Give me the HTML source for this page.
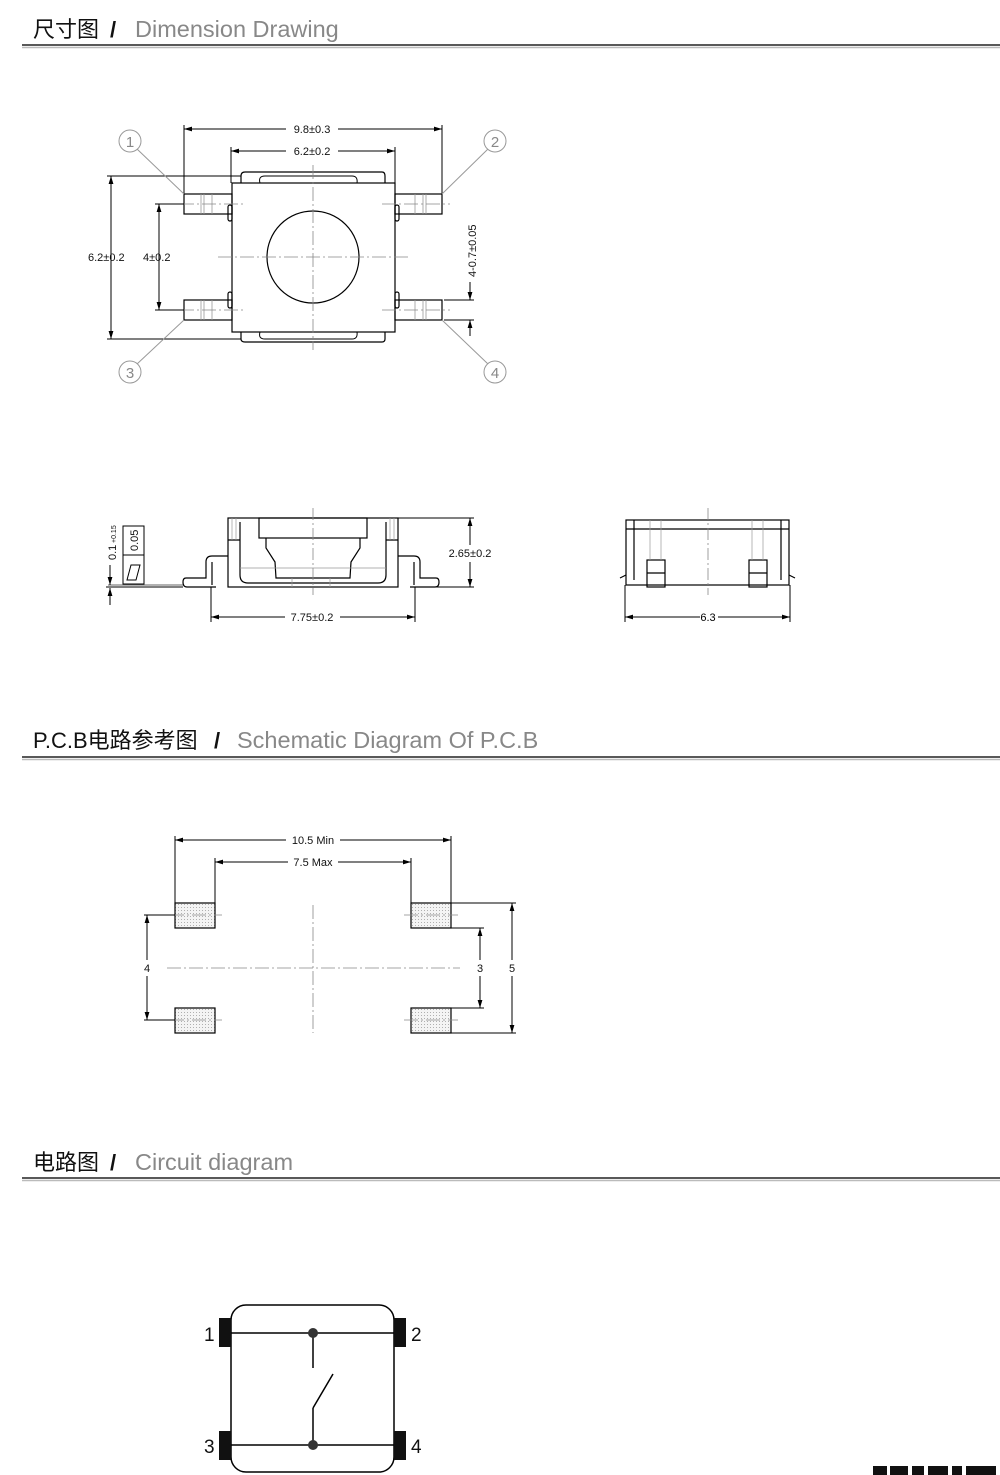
<!DOCTYPE html>
<html><head><meta charset="utf-8"><style>
html,body{margin:0;padding:0;background:#fff}
svg{display:block}
text{font-family:"Liberation Sans","Noto Sans CJK SC",sans-serif}
</style></head><body>
<svg width="1000" height="1475" viewBox="0 0 1000 1475" xmlns="http://www.w3.org/2000/svg">
<defs>
<marker id="a" viewBox="0 0 10 6" refX="10" refY="3" markerWidth="8" markerHeight="5" orient="auto-start-reverse"><path d="M0,0L10,3L0,6z" fill="#000"/></marker>
<pattern id="dots" width="3" height="3" patternUnits="userSpaceOnUse"><rect width="3" height="3" fill="#f4f4f4"/><circle cx="1.5" cy="1.5" r="0.5" fill="#999"/></pattern>
</defs>
<!-- Headers -->
<g>
<text x="33" y="37" font-size="22" fill="#111">尺寸图</text><text x="110" y="37" font-size="22" font-weight="bold" fill="#111">/</text>
<text x="135" y="37" font-size="23.5" fill="#888">Dimension Drawing</text>
<line x1="22" y1="45" x2="1000" y2="45" stroke="#222" stroke-width="1.5"/><line x1="22" y1="47.5" x2="1000" y2="47.5" stroke="#bbb" stroke-width="1.5"/>
<text x="33" y="748" font-size="22" fill="#111">P.C.B电路参考图</text><text x="214" y="748" font-size="22" font-weight="bold" fill="#111">/</text>
<text x="237" y="748" font-size="23.5" fill="#888">Schematic Diagram Of P.C.B</text>
<line x1="22" y1="757" x2="1000" y2="757" stroke="#222" stroke-width="1.5"/><line x1="22" y1="759.5" x2="1000" y2="759.5" stroke="#bbb" stroke-width="1.5"/>
<text x="33" y="1170" font-size="22" fill="#111">电路图</text><text x="110" y="1170" font-size="22" font-weight="bold" fill="#111">/</text>
<text x="135" y="1170" font-size="23.5" fill="#888">Circuit diagram</text>
<line x1="22" y1="1178" x2="1000" y2="1178" stroke="#222" stroke-width="1.5"/><line x1="22" y1="1180.5" x2="1000" y2="1180.5" stroke="#bbb" stroke-width="1.5"/>
</g>

<!-- Top view -->
<g fill="none" stroke="#000" stroke-width="1.2">
<rect x="232" y="183" width="163" height="149"/>
<path d="M241,183 V176 Q241,172 245,172 H382 Q385,172 385,176 V183"/>
<path d="M241,332 V339 Q241,342 245,342 H382 Q385,342 385,339 V332"/>
<path d="M260,183 Q258,176 265,176 H352 Q358,176 357,183" stroke-width="1"/>
<path d="M260,332 Q258,339 265,339 H352 Q358,339 357,332" stroke-width="1"/>
<circle cx="313" cy="257" r="46"/>
<rect x="184" y="194" width="48" height="20"/><rect x="184" y="300" width="48" height="20"/>
<rect x="395" y="194" width="47" height="20"/><rect x="395" y="300" width="47" height="20"/>
<rect x="228" y="205" width="4" height="16" rx="2"/><rect x="228" y="292" width="4" height="16" rx="2"/>
<rect x="395" y="205" width="4" height="16" rx="2"/><rect x="395" y="292" width="4" height="16" rx="2"/>
</g>
<g stroke="#999" stroke-width="0.8">
<line x1="201" y1="194" x2="201" y2="214"/><line x1="204" y1="194" x2="204" y2="214"/><line x1="212" y1="194" x2="212" y2="214"/>
<line x1="201" y1="300" x2="201" y2="320"/><line x1="204" y1="300" x2="204" y2="320"/><line x1="212" y1="300" x2="212" y2="320"/>
<line x1="415" y1="194" x2="415" y2="214"/><line x1="423" y1="194" x2="423" y2="214"/><line x1="426" y1="194" x2="426" y2="214"/>
<line x1="415" y1="300" x2="415" y2="320"/><line x1="423" y1="300" x2="423" y2="320"/><line x1="426" y1="300" x2="426" y2="320"/>
</g>
<g stroke="#888" stroke-width="0.8" stroke-dasharray="14,3,2,3" fill="none">
<line x1="313" y1="165" x2="313" y2="350"/><line x1="218" y1="257" x2="408" y2="257"/>
<line x1="180" y1="204" x2="246" y2="204"/><line x1="180" y1="310" x2="246" y2="310"/>
<line x1="382" y1="204" x2="450" y2="204"/><line x1="382" y1="310" x2="450" y2="310"/>
</g>
<g stroke="#000" stroke-width="1" fill="none">
<line x1="184" y1="125" x2="184" y2="194"/><line x1="442" y1="125" x2="442" y2="194"/>
<line x1="184" y1="129" x2="286" y2="129" marker-start="url(#a)"/><line x1="338" y1="129" x2="442" y2="129" marker-end="url(#a)"/>
<line x1="231" y1="147" x2="231" y2="183"/><line x1="395" y1="147" x2="395" y2="183"/>
<line x1="231" y1="151" x2="286" y2="151" marker-start="url(#a)"/><line x1="338" y1="151" x2="395" y2="151" marker-end="url(#a)"/>
<line x1="107" y1="176" x2="241" y2="176"/><line x1="107" y1="339" x2="241" y2="339"/>
<line x1="111" y1="176" x2="111" y2="339" marker-start="url(#a)" marker-end="url(#a)"/>
<line x1="155" y1="204" x2="184" y2="204"/><line x1="155" y1="310" x2="184" y2="310"/>
<line x1="159" y1="204" x2="159" y2="310" marker-start="url(#a)" marker-end="url(#a)"/>
<line x1="444" y1="300" x2="474" y2="300"/><line x1="444" y1="320" x2="474" y2="320"/>
<line x1="470" y1="282" x2="470" y2="300" marker-end="url(#a)"/><line x1="470" y1="336" x2="470" y2="320" marker-end="url(#a)"/>
</g>
<g font-size="11" fill="#111">
<text x="312" y="133" text-anchor="middle">9.8±0.3</text>
<text x="312" y="155" text-anchor="middle">6.2±0.2</text>
<text x="88" y="261">6.2±0.2</text><text x="143" y="261">4±0.2</text>
<text transform="translate(476,277) rotate(-90)">4-0.7±0.05</text>
</g>
<g stroke="#999" stroke-width="1" fill="#fff">
<line x1="137" y1="149" x2="184" y2="194"/><line x1="488" y1="149" x2="442" y2="194"/>
<line x1="137" y1="364" x2="184" y2="320"/><line x1="488" y1="364" x2="442" y2="320"/>
<circle cx="130" cy="141" r="11"/><circle cx="495" cy="141" r="11"/><circle cx="130" cy="372" r="11"/><circle cx="495" cy="372" r="11"/>
</g>
<g font-size="15" fill="#888" text-anchor="middle">
<text x="130" y="147">1</text><text x="495" y="147">2</text><text x="130" y="378">3</text><text x="495" y="378">4</text>
</g>

<!-- Side view -->
<g fill="none" stroke="#000" stroke-width="1.2">
<rect x="228" y="518" width="170" height="69"/>
<path d="M228,540 H240 M386,540 H398"/>
<path d="M240,522 V575 Q240,583 248,583 H378 Q386,583 386,575 V522"/>
<rect x="259" y="518" width="108" height="20"/>
<path d="M266,538 V548 L275,562 L276,578 H350 L351,562 L360,548 V538"/>
<path d="M228,556 H212 Q206,556 206,562 V578 H186 Q183,578 183,582 Q183,587 187,587 H216 M212,562 V585"/>
<path d="M398,556 H414 Q420,556 420,562 V578 H436 Q439,578 439,582 Q439,587 435,587 H410 M414,562 V585"/>
</g>
<g stroke="#999" stroke-width="0.7">
<line x1="232" y1="518" x2="232" y2="540"/><line x1="236" y1="518" x2="236" y2="540"/><line x1="390" y1="518" x2="390" y2="540"/><line x1="394" y1="518" x2="394" y2="540"/>
<line x1="240" y1="568" x2="386" y2="568"/><line x1="292" y1="578" x2="292" y2="587"/><line x1="330" y1="578" x2="330" y2="587"/>
</g>
<line x1="313" y1="508" x2="313" y2="595" stroke="#888" stroke-width="0.8" stroke-dasharray="12,3,2,3"/>
<g stroke="#000" stroke-width="1" fill="none">
<line x1="398" y1="518" x2="474" y2="518"/><line x1="420" y1="587" x2="474" y2="587"/>
<line x1="470" y1="518" x2="470" y2="545" marker-start="url(#a)"/><line x1="470" y1="562" x2="470" y2="587" marker-end="url(#a)"/>
<line x1="211" y1="587" x2="211" y2="622"/><line x1="415" y1="587" x2="415" y2="622"/>
<line x1="211" y1="617" x2="285" y2="617" marker-start="url(#a)"/><line x1="340" y1="617" x2="415" y2="617" marker-end="url(#a)"/>
<line x1="106" y1="587" x2="183" y2="587"/><line x1="108" y1="585" x2="183" y2="585" stroke="#666"/>
<line x1="110" y1="565" x2="110" y2="585" marker-end="url(#a)"/><line x1="110" y1="605" x2="110" y2="588" marker-end="url(#a)"/>
<rect x="123" y="526" width="21" height="58"/><line x1="123" y1="555" x2="144" y2="555"/>
<path d="M127,580 L131,565 H140 L136,580 Z"/>
</g>
<g font-size="11" fill="#111">
<text x="470" y="557" text-anchor="middle" fill="#111" style="paint-order:stroke" stroke="#fff" stroke-width="4">2.65±0.2</text>
<text x="312" y="621" text-anchor="middle">7.75±0.2</text>
<text transform="translate(138,551) rotate(-90)">0.05</text>
<text transform="translate(116,560) rotate(-90)">0.1</text>
<text transform="translate(116,543) rotate(-90)" font-size="7">+0.15</text>
</g>

<!-- Right side view -->
<g fill="none" stroke="#000" stroke-width="1.2">
<rect x="626" y="520" width="163" height="65"/>
<line x1="626" y1="529" x2="789" y2="529"/><line x1="634" y1="520" x2="634" y2="580"/><line x1="781" y1="520" x2="781" y2="580"/>
<path d="M626,575 L620,578 M789,575 L795,578"/>
<rect x="647" y="560" width="18" height="27"/><rect x="749" y="560" width="18" height="27"/>
<line x1="647" y1="573" x2="665" y2="573"/><line x1="749" y1="573" x2="767" y2="573"/>
</g>
<g stroke="#999" stroke-width="0.7">
<line x1="650" y1="520" x2="650" y2="560"/><line x1="661" y1="520" x2="661" y2="560"/><line x1="752" y1="520" x2="752" y2="560"/><line x1="763" y1="520" x2="763" y2="560"/>
</g>
<line x1="708" y1="508" x2="708" y2="595" stroke="#888" stroke-width="0.8" stroke-dasharray="12,3,2,3"/>
<g stroke="#000" stroke-width="1" fill="none">
<line x1="625" y1="585" x2="625" y2="622"/><line x1="790" y1="585" x2="790" y2="622"/>
<line x1="625" y1="617" x2="700" y2="617" marker-start="url(#a)"/><line x1="718" y1="617" x2="790" y2="617" marker-end="url(#a)"/>
</g>
<text x="708" y="621" font-size="11" text-anchor="middle">6.3</text>

<!-- PCB -->
<g stroke="#000" stroke-width="1.2" fill="url(#dots)">
<rect x="175" y="903" width="40" height="25"/><rect x="175" y="1008" width="40" height="25"/>
<rect x="411" y="903" width="40" height="25"/><rect x="411" y="1008" width="40" height="25"/>
</g>
<g stroke="#888" stroke-width="0.8" stroke-dasharray="14,3,2,3">
<line x1="167" y1="968" x2="460" y2="968"/><line x1="313" y1="905" x2="313" y2="1033"/>
<line x1="170" y1="915" x2="222" y2="915"/><line x1="170" y1="1020" x2="222" y2="1020"/>
<line x1="404" y1="915" x2="458" y2="915"/><line x1="404" y1="1020" x2="458" y2="1020"/>
</g>
<g stroke="#000" stroke-width="1" fill="none">
<line x1="175" y1="836" x2="175" y2="903"/><line x1="451" y1="836" x2="451" y2="903"/>
<line x1="175" y1="840" x2="286" y2="840" marker-start="url(#a)"/><line x1="340" y1="840" x2="451" y2="840" marker-end="url(#a)"/>
<line x1="215" y1="858" x2="215" y2="903"/><line x1="411" y1="858" x2="411" y2="903"/>
<line x1="215" y1="862" x2="288" y2="862" marker-start="url(#a)"/><line x1="338" y1="862" x2="411" y2="862" marker-end="url(#a)"/>
<line x1="144" y1="915" x2="175" y2="915"/><line x1="144" y1="1020" x2="175" y2="1020"/>
<line x1="147" y1="915" x2="147" y2="960" marker-start="url(#a)"/><line x1="147" y1="976" x2="147" y2="1020" marker-end="url(#a)"/>
<line x1="451" y1="928" x2="484" y2="928"/><line x1="451" y1="1008" x2="484" y2="1008"/>
<line x1="480" y1="928" x2="480" y2="960" marker-start="url(#a)"/><line x1="480" y1="976" x2="480" y2="1008" marker-end="url(#a)"/>
<line x1="451" y1="903" x2="516" y2="903"/><line x1="451" y1="1033" x2="516" y2="1033"/>
<line x1="512" y1="903" x2="512" y2="960" marker-start="url(#a)"/><line x1="512" y1="976" x2="512" y2="1033" marker-end="url(#a)"/>
</g>
<g font-size="11" fill="#111" text-anchor="middle">
<text x="313" y="844">10.5 Min</text><text x="313" y="866">7.5 Max</text>
<text x="147" y="972">4</text><text x="480" y="972">3</text><text x="512" y="972">5</text>
</g>

<!-- Circuit -->
<rect x="231" y="1305" width="163" height="167" rx="15" fill="none" stroke="#000" stroke-width="1.5"/>
<g fill="#111">
<rect x="219" y="1318" width="12" height="29"/><rect x="219" y="1431" width="12" height="29"/>
<rect x="394" y="1318" width="12" height="29"/><rect x="394" y="1431" width="12" height="29"/>
</g>
<g stroke="#000" stroke-width="1.5" fill="none">
<line x1="231" y1="1333" x2="394" y2="1333"/><line x1="231" y1="1445" x2="394" y2="1445"/>
<line x1="313" y1="1333" x2="313" y2="1368"/><line x1="313" y1="1408" x2="313" y2="1445"/>
<line x1="313" y1="1408" x2="333" y2="1374"/>
</g>
<circle cx="313" cy="1333" r="5" fill="#333"/><circle cx="313" cy="1445" r="5" fill="#333"/>
<g font-size="19" fill="#111">
<text x="204" y="1341">1</text><text x="411" y="1341">2</text><text x="204" y="1453">3</text><text x="411" y="1453">4</text>
</g>
<g fill="#111">
<rect x="873" y="1466" width="14" height="9"/><rect x="890" y="1466" width="18" height="9"/><rect x="912" y="1466" width="12" height="9"/><rect x="928" y="1466" width="20" height="9"/><rect x="952" y="1466" width="10" height="9"/><rect x="966" y="1466" width="30" height="9"/>
</g>
</svg>
</body></html>
